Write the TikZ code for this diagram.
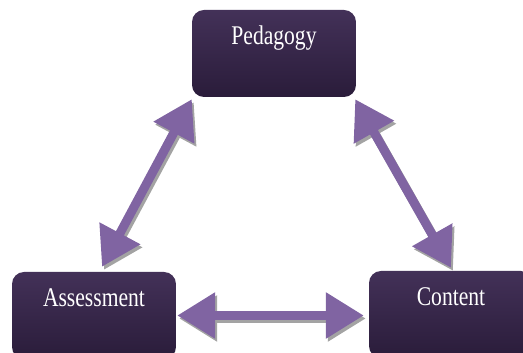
\documentclass[tikz,border=0pt]{standalone}
\usepackage{fontspec}
\newfontfamily\boxfont[FakeStretch=0.8]{Liberation Serif}
\usepackage{tikz}
\usetikzlibrary{arrows.meta}

\definecolor{boxtop}{HTML}{433158}
\definecolor{boxbottom}{HTML}{2A1C3A}
\definecolor{arrowfill}{HTML}{8064A2}
\definecolor{arrowshade}{HTML}{A3A3A3}

\tikzset{
  topicbox/.style={rectangle, rounded corners=12pt, top color=boxtop, bottom color=boxbottom,
    minimum width=164pt, minimum height=87pt, inner sep=0pt,
    text height=35pt, text depth=52pt, text=white, font=\boxfont\fontsize{27}{30}\selectfont},
  twoway/.style={line width=9pt, draw=arrowfill,
    {Triangle[length=38pt,width=44pt,fill=arrowfill]}-{Triangle[length=38pt,width=44pt,fill=arrowfill]}},
  twowayshadow/.style={twoway, draw=arrowshade, transform canvas={xshift=2pt,yshift=-3pt},
    {Triangle[length=38pt,width=44pt,fill=arrowshade]}-{Triangle[length=38pt,width=44pt,fill=arrowshade]}}
}

\begin{document}
\begin{tikzpicture}[x=1pt,y=1pt]
\useasboundingbox (0,0) rectangle (523,353);
% draws boxes
\node[topicbox] (ped) at (274,299.5) {Pedagogy};
\node[topicbox] (ass) at (94,37.5) {Assessment};
\node[topicbox] (con) at (451,38.5) {Content};
% draws shadows of arrows
\draw[twowayshadow] ([yshift=-2pt]ped.south west) -- ([xshift=8pt,yshift=5pt]ass.north);
\draw[twowayshadow] ([xshift=-1pt,yshift=-2pt]ped.south east) -- ([yshift=3pt]con.north);
\draw[twowayshadow] ([xshift=1pt]ass.east) -- ([xshift=-5pt,yshift=-1pt]con.west);
% draws arrows
\draw[twoway] ([yshift=-2pt]ped.south west) -- ([xshift=8pt,yshift=5pt]ass.north);
\draw[twoway] ([xshift=-1pt,yshift=-2pt]ped.south east) -- ([yshift=3pt]con.north);
\draw[twoway] ([xshift=1pt]ass.east) -- ([xshift=-5pt,yshift=-1pt]con.west);
\end{tikzpicture}
\end{document}
